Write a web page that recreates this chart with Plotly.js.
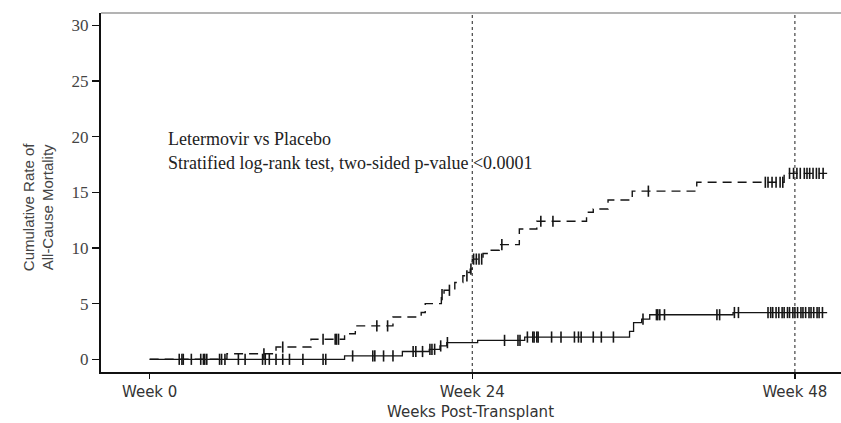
<!DOCTYPE html>
<html>
<head>
<meta charset="utf-8">
<script src="https://cdn.plot.ly/plotly-3.0.1.min.js"></script>
<style>
html,body{margin:0;padding:0;background:#fff;}
#chart{width:841px;height:423px;}
</style>
</head>
<body>
<div id="chart"></div>
<script>
// ---- data (weeks post-transplant, cumulative rate %) ----
var placeboTimes = [0, 5.75, 9.4, 12.0, 14.5, 15.3, 18.1, 20.2, 20.5, 21.7, 21.9, 22.7, 23.3, 23.7, 23.85, 24.0, 24.8, 25.3, 26.0, 27.5, 28.8, 32.5, 33.0, 34.1, 35.9, 40.7, 47.2, 50.4];
var placeboRates = [0, 0.5, 1.1, 1.8, 2.3, 3.0, 3.8, 4.2, 5.0, 5.8, 6.2, 6.9, 7.5, 7.8, 8.1, 9.0, 9.5, 9.8, 10.3, 11.7, 12.4, 13.2, 13.5, 14.3, 15.1, 15.9, 16.7, 16.7];

var letermovirTimes = [0, 14.5, 18.8, 20.8, 21.6, 22.1, 24.4, 27.9, 35.7, 36.0, 36.6, 37.2, 43.4, 50.4];
var letermovirRates = [0, 0.3, 0.7, 0.9, 1.2, 1.5, 1.7, 2.0, 2.5, 3.3, 3.6, 4.0, 4.2, 4.2];

var placeboCensored = [8.5, 9.9, 12.9, 13.8, 13.9, 14.05, 16.9, 17.7, 21.75, 22.3, 23.6, 23.9, 24.1, 24.3, 24.5, 24.7, 26.2, 29.1, 30.0, 37.1,
  45.8, 46.0, 46.3, 46.6, 46.9, 47.1, 47.6, 47.9, 48.15, 48.4, 48.7, 48.9, 49.1, 49.35, 49.6, 49.8, 50.1];
var letermovirCensored = [2.2, 2.4, 2.5, 3.1, 3.8, 4.0, 4.1, 4.25, 5.2, 5.35, 5.6, 6.6, 7.1, 8.4, 8.6, 8.9, 9.4, 9.9, 10.4, 11.4, 12.9, 13.1,
  15.1, 16.6, 16.75, 17.4, 18.1, 19.6, 19.8, 20.3, 20.85, 21.0, 21.2, 21.65, 22.15, 26.4, 27.4, 27.55, 28.1, 28.5, 28.6, 28.8, 28.9,
  29.9, 30.6, 31.6, 31.9, 32.1, 33.0, 33.6, 34.5, 36.7, 37.7, 37.8, 37.95, 38.3, 42.2, 42.4, 43.5, 43.8,
  46.0, 46.2, 46.35, 46.6, 46.8, 47.05, 47.2, 47.45, 47.6, 47.85, 48.0, 48.2, 48.45, 48.6, 48.8, 49.05, 49.2, 49.4, 49.65, 49.8, 50.05];

var xTickVals = [0, 24, 48];
var xTickText = ['Week 0', 'Week 24', 'Week 48'];
var yTickVals = [0, 5, 10, 15, 20, 25, 30];
var refWeeks = [24, 48];

function stepValue(times, vals, t) {
  var v = vals[0];
  for (var i = 0; i < times.length; i++) { if (times[i] <= t) v = vals[i]; }
  return v;
}

var ink = '#151515';
var traces = [
  {x: placeboTimes, y: placeboRates, mode: 'lines', line: {shape: 'hv', color: ink, width: 1.4, dash: '9px,6px'}, hoverinfo: 'skip', name: 'Placebo'},
  {x: letermovirTimes, y: letermovirRates, mode: 'lines', line: {shape: 'hv', color: ink, width: 1.3}, hoverinfo: 'skip', name: 'Letermovir'},
  {x: placeboCensored, y: placeboCensored.map(function(t){return stepValue(placeboTimes, placeboRates, t);}),
   mode: 'markers', marker: {symbol: 'line-ns-open', size: 8, color: ink, line: {color: ink, width: 1.6}}, hoverinfo: 'skip'},
  {x: letermovirCensored, y: letermovirCensored.map(function(t){return stepValue(letermovirTimes, letermovirRates, t);}),
   mode: 'markers', marker: {symbol: 'line-ns-open', size: 8, color: ink, line: {color: ink, width: 1.6}}, hoverinfo: 'skip'}
];

var shapes = refWeeks.map(function(w){
  return {type: 'line', xref: 'x', yref: 'paper', x0: w, x1: w, y0: 0, y1: 1, line: {color: '#333', width: 1.1, dash: 'dot'}};
});
shapes.push({type: 'line', xref: 'paper', yref: 'paper', x0: 0, x1: 1, y0: 1, y1: 1, line: {color: '#9a9a9a', width: 1.6}});

var layout = {
  width: 841, height: 423,
  margin: {l: 101, r: 0, t: 13, b: 51},
  paper_bgcolor: '#fff', plot_bgcolor: '#fff',
  showlegend: false,
  xaxis: {
    range: [-3.62, 51.43], tickvals: xTickVals, ticktext: xTickText,
    showgrid: false, zeroline: false, showline: true, linecolor: '#111', linewidth: 2,
    ticks: 'outside', ticklen: 5, tickwidth: 1.5, tickcolor: '#111',
    tickfont: {family: 'DejaVu Sans, Verdana, sans-serif', size: 15, color: '#333'}
  },
  yaxis: {
    range: [-1.14, 31.1], tickvals: yTickVals,
    showgrid: false, zeroline: false, showline: true, linecolor: '#111', linewidth: 2,
    ticks: 'outside', ticklen: 7, tickwidth: 1.5, tickcolor: '#111',
    tickfont: {family: 'Liberation Serif, Times New Roman, serif', size: 17, color: '#444'}
  },
  shapes: shapes,
  annotations: [
    {xref: 'x', yref: 'y', x: 1.25, y: 19.8, xanchor: 'left', yanchor: 'middle', showarrow: false,
     text: 'Letermovir vs Placebo', font: {family: 'Liberation Serif, Times New Roman, serif', size: 18, color: '#222'}},
    {xref: 'x', yref: 'y', x: 1.25, y: 17.6, xanchor: 'left', yanchor: 'middle', showarrow: false,
     text: 'Stratified log-rank test, two-sided p-value <0.0001', font: {family: 'Liberation Serif, Times New Roman, serif', size: 18, color: '#222'}},
    {xref: 'paper', yref: 'paper', x: (470 - 101) / 740, y: -(412 - 372) / 359.3, xanchor: 'center', yanchor: 'middle', showarrow: false,
     text: 'Weeks Post-Transplant', font: {family: 'DejaVu Sans, Verdana, sans-serif', size: 15, color: '#333'}},
    {xref: 'paper', yref: 'paper', x: (38 - 101) / 740, y: (372 - 207) / 359.3, xanchor: 'center', yanchor: 'middle', showarrow: false,
     textangle: -90, align: 'center',
     text: 'Cumulative Rate of<br>All-Cause Mortality', font: {family: 'Liberation Sans Narrow, Arial Narrow, Liberation Sans, sans-serif', size: 15, color: '#444'}}
  ]
};

Plotly.newPlot('chart', traces, layout, {staticPlot: true, displayModeBar: false});
</script>
</body>
</html>
